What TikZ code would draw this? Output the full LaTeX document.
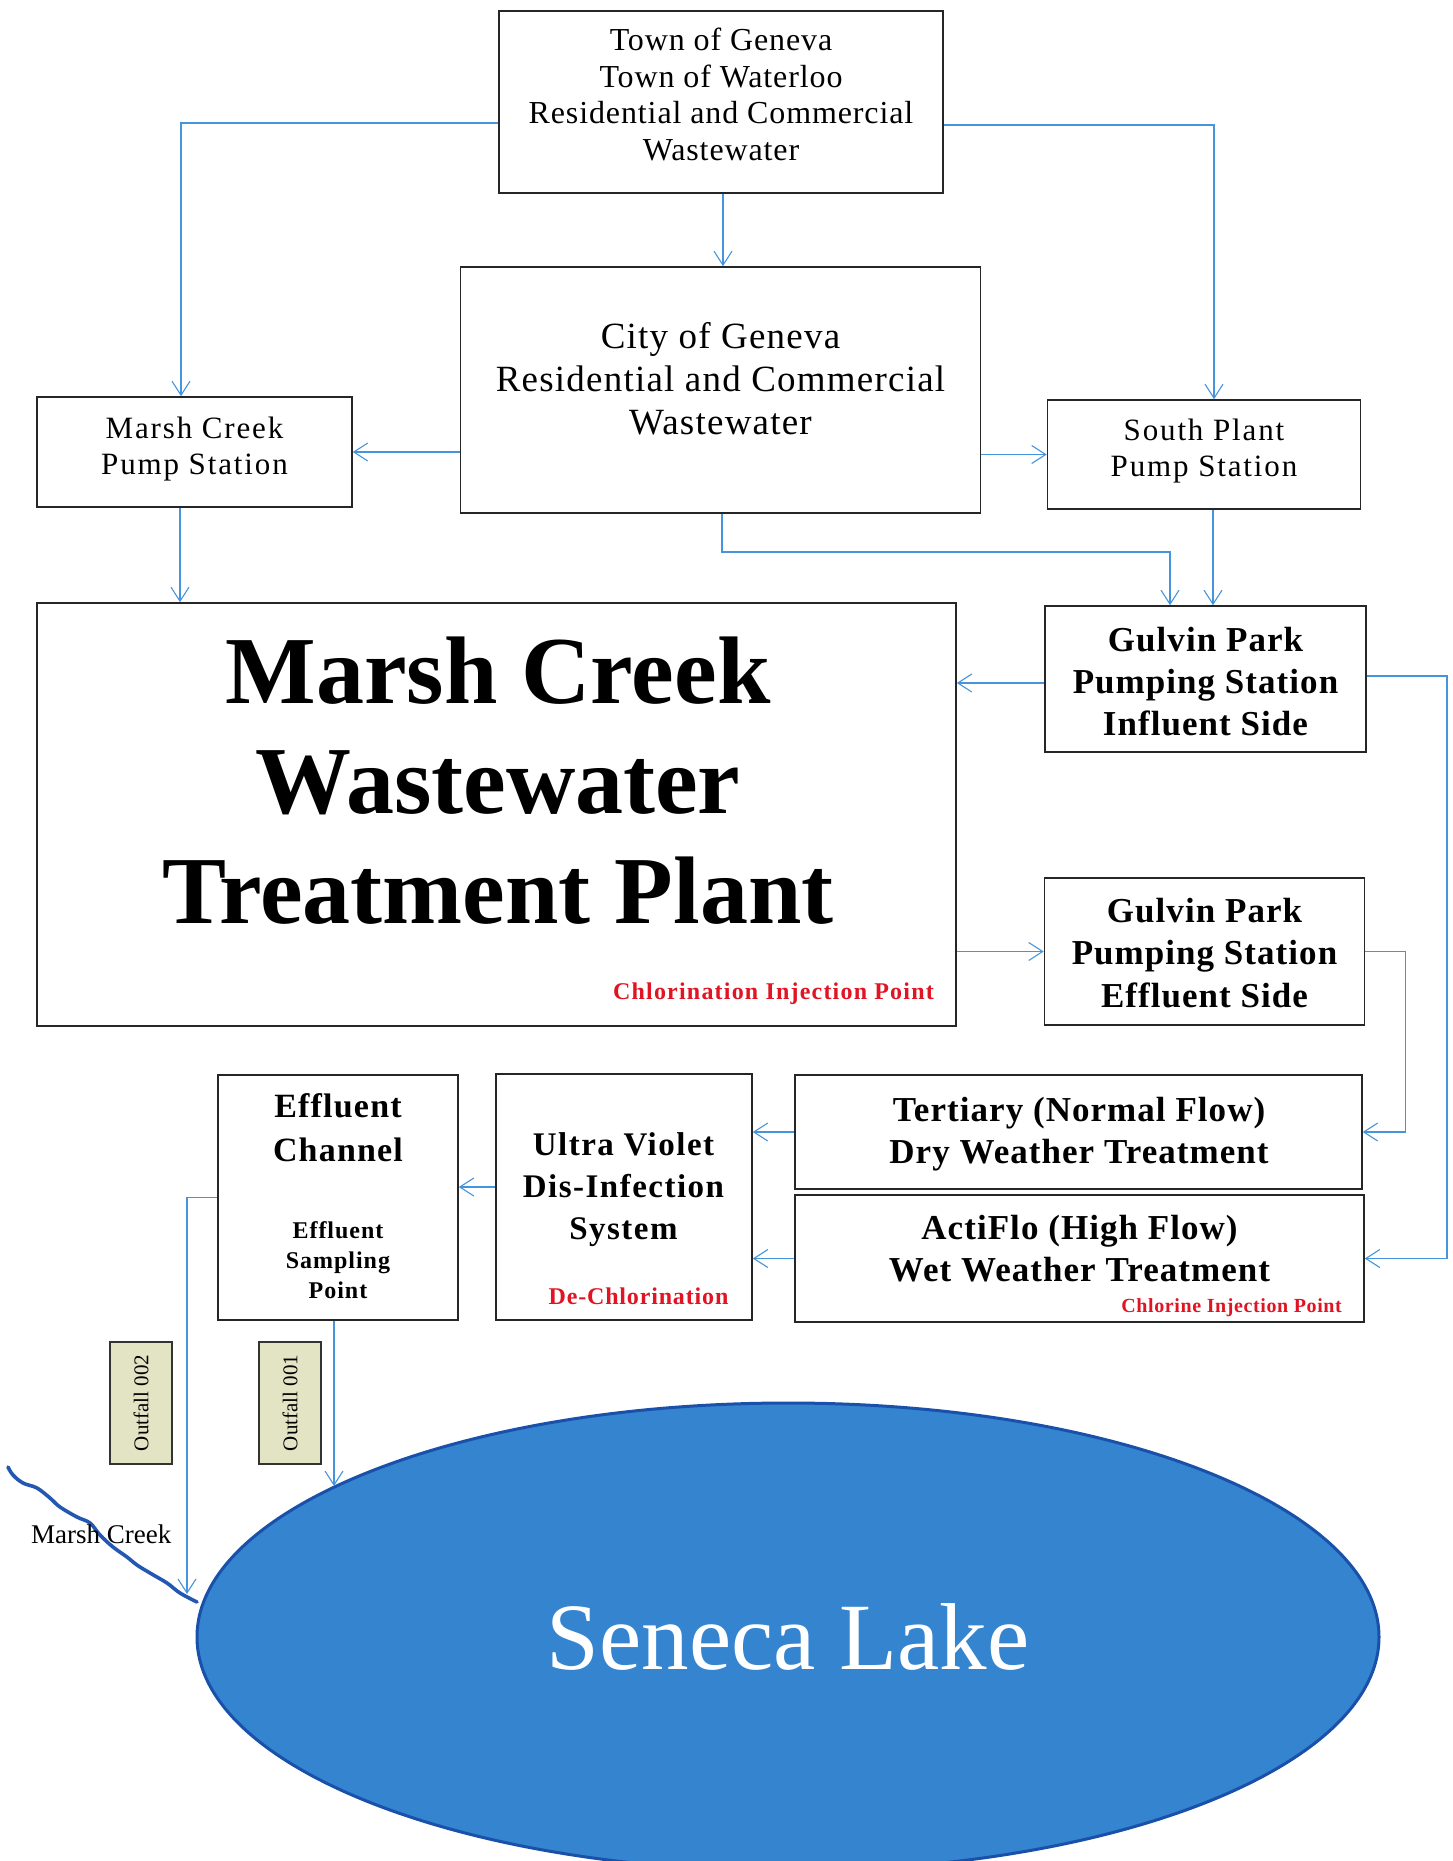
\documentclass[tikz,border=0pt]{standalone}
\usepackage{fontspec}
\setmainfont{Liberation Serif}
\usetikzlibrary{arrows.meta,shapes.geometric}
\newcommand\myls[1]{\addfontfeature{LetterSpace=#1}}
\newcommand\fsz[2]{\fontsize{#1}{#2}\selectfont}
\definecolor{flowblue}{RGB}{70,148,220}
\definecolor{redtxt}{RGB}{225,20,35}
\definecolor{outfill}{RGB}{226,228,196}
\definecolor{lakefill}{RGB}{52,132,208}
\definecolor{lakeline}{RGB}{25,80,170}
\definecolor{creekcol}{RGB}{35,88,178}
\tikzset{
  box/.style={draw=black!85, line width=1.6pt, inner sep=0pt, fill=white},
  txt/.style={align=center, inner sep=0pt},
  flow/.style={draw=flowblue, line width=1.1pt,
     -{Straight Barb[length=14pt,width=18pt,line width=1.1pt]}},
  redlbl/.style={text=redtxt, inner sep=0pt},
  outbox/.style={draw=black!80, line width=1.4pt, fill=outfill, rotate=90,
     minimum width=122pt, minimum height=62pt, inner sep=0pt,
     font=\fsz{21}{24}},
}
\begin{document}
\begin{tikzpicture}[x=1pt,y=-1pt]
\useasboundingbox (0,0) rectangle (1453,1861);
\fill[white] (0,0) rectangle (1453,1861);

% lake
\node[ellipse, draw=lakeline, line width=3pt, fill=lakefill,
      minimum width=1182pt, minimum height=468pt, inner sep=0pt,
      text=white, font=\fsz{95}{100}] (lake) at (788,1637) {Seneca Lake};

% creek
\draw[creekcol, line width=3.6pt, line cap=round, line join=round]
  plot[smooth, tension=0.6] coordinates {(8,1467) (13,1475) (23,1483) (37,1488)
   (50,1498) (60,1507) (77,1517) (90,1523) (100,1535) (113,1547) (127,1557)
   (137,1565) (150,1573) (167,1583) (180,1593) (197,1602)};
\node[anchor=base west, inner sep=0pt, font=\fsz{27}{30}] (creeklbl) at (31,1543) {Marsh Creek};

% boxes
\node[box, minimum width=444pt, minimum height=182pt] (town) at (721,102) {};
\node[box, minimum width=520pt, minimum height=246pt] (city) at (720.5,390) {};
\node[box, minimum width=315pt, minimum height=110pt] (mpump) at (194.5,452) {};
\node[box, minimum width=313pt, minimum height=109pt] (splant) at (1204,454.5) {};
\node[box, minimum width=919pt, minimum height=423pt] (mcw) at (496.5,814.5) {};
\node[box, minimum width=321pt, minimum height=146pt] (ginf) at (1205.4,679) {};
\node[box, minimum width=320pt, minimum height=147pt] (geff) at (1204.5,951.5) {};
\node[box, minimum width=567pt, minimum height=114pt] (tert) at (1078.4,1132) {};
\node[box, minimum width=569pt, minimum height=127pt] (acti) at (1079.5,1258.5) {};
\node[box, minimum width=256pt, minimum height=246pt] (uv) at (624,1197) {};
\node[box, minimum width=240pt, minimum height=245pt] (ec) at (338,1197.5) {};
\node[outbox] (out2) at (141,1403) {Outfall 002};
\node[outbox] (out1) at (290,1403) {Outfall 001};

% texts
\node[txt, font={\fsz{32}{36.4}\myls{2.75}}] (townT) at (721,94.5)
  {Town of Geneva\\Town of Waterloo\\Residential and Commercial\\Wastewater};
\node[txt, font={\fsz{37}{43}\myls{3.3}}] (cityT) at (720.5,378.5)
  {City of Geneva\\Residential and Commercial\\Wastewater};
\node[txt, font={\fsz{31}{36}\myls{6}}] (mpumpT) at (194.5,448.8)
  {Marsh Creek\\Pump Station};
\node[txt, font={\fsz{31}{36}\myls{6}}] (splantT) at (1204,450.7)
  {South Plant\\Pump Station};
\node[txt, font={\fsz{96}{110}\bfseries}] (mcwT) at (498,780.5)
  {Marsh Creek\\Wastewater\\Treatment Plant};
\node[redlbl, anchor=base east, font={\fsz{24}{27}\bfseries\myls{5}}] (chlor1) at (934,999)
  {Chlorination Injection Point};
\node[txt, font={\fsz{35}{42}\bfseries\myls{3}}] (ginfT) at (1205.5,681.5)
  {Gulvin Park\\Pumping Station\\Influent Side};
\node[txt, font={\fsz{35}{42.5}\bfseries\myls{3}}] (geffT) at (1204.5,952.7)
  {Gulvin Park\\Pumping Station\\Effluent Side};
\node[txt, font={\fsz{35}{42}\bfseries\myls{3}}] (tertT) at (1079,1133.8)
  {Tertiary (Normal Flow)\\Dry Weather Treatment};
\node[txt, font={\fsz{35}{42}\bfseries\myls{3}}] (actiT) at (1079.5,1249)
  {ActiFlo (High Flow)\\Wet Weather Treatment};
\node[redlbl, anchor=base east, font={\fsz{20}{23}\bfseries\myls{3}}] (chlor2) at (1342,1312)
  {Chlorine Injection Point};
\node[txt, font={\fsz{33}{42}\bfseries\myls{4.5}}] (uvT) at (623.5,1189.4)
  {Ultra Violet\\Dis-Infection\\System};
\node[redlbl, anchor=base, font={\fsz{24}{28}\bfseries\myls{3.5}}] (dechlor) at (638.5,1304)
  {De-Chlorination};
\node[txt, font={\fsz{34}{44}\bfseries\myls{3.5}}] (ecT) at (338,1128)
  {Effluent\\Channel};
\node[txt, font={\fsz{24}{30}\bfseries\myls{4}}] (ecS) at (338,1259.7)
  {Effluent\\Sampling\\Point};

% helper coordinates
\coordinate (t1) at ([yshift=-21pt]town.west);
\coordinate (t2) at ([yshift=-23pt]town.east);
\coordinate (g1) at ([yshift=-4pt]ginf.west);
\coordinate (g2) at ([yshift=3pt]ginf.east);
\coordinate (m1) at ([xshift=-14.5pt]mpump.south);
\coordinate (sp1) at ([xshift=9pt]splant.south);
\coordinate (rail1) at (1447,0);
\coordinate (rail2) at (1405.6,0);
\coordinate (u1) at ([yshift=10pt]uv.west);
\coordinate (mouth) at (187,1594);
\coordinate (lakehit) at (334,1486);
\coordinate (cs) at (722,552);

% connectors
\draw[flow] (t1) -| ([xshift=-13.5pt]mpump.north);
\draw[flow] (t2) -| ([xshift=10pt]splant.north);
\draw[flow] ([xshift=2pt]town.south) -- ([xshift=2pt]town.south |- city.north);
\draw[flow] (city.west |- mpump.east) -- (mpump.east);
\draw[flow] (city.east |- splant.west) -- (splant.west);
\draw[flow] (cs |- city.south) -- (cs) -| ([xshift=-35.4pt]ginf.north);
\draw[flow] (sp1) -- (sp1 |- ginf.north);
\draw[flow] (m1) -- (m1 |- mcw.north);
\draw[flow] (g1) -- (g1 -| mcw.east);
\draw[flow] (g2) -- (g2 -| rail1) |- (acti.east);
\draw[flow] (geff.west -| mcw.east) -- (geff.west);
\draw[flow] (geff.east) -- (geff.east -| rail2) |- (tert.east);
\draw[flow] (tert.west) -- (tert.west -| uv.east);
\draw[flow] (acti.west) -- (acti.west -| uv.east);
\draw[flow] (u1) -- (u1 -| ec.east);
\draw[flow] (ec.west) -| (mouth);
\draw[flow] ([xshift=-4pt]ec.south) -- (lakehit);
\end{tikzpicture}
\end{document}
